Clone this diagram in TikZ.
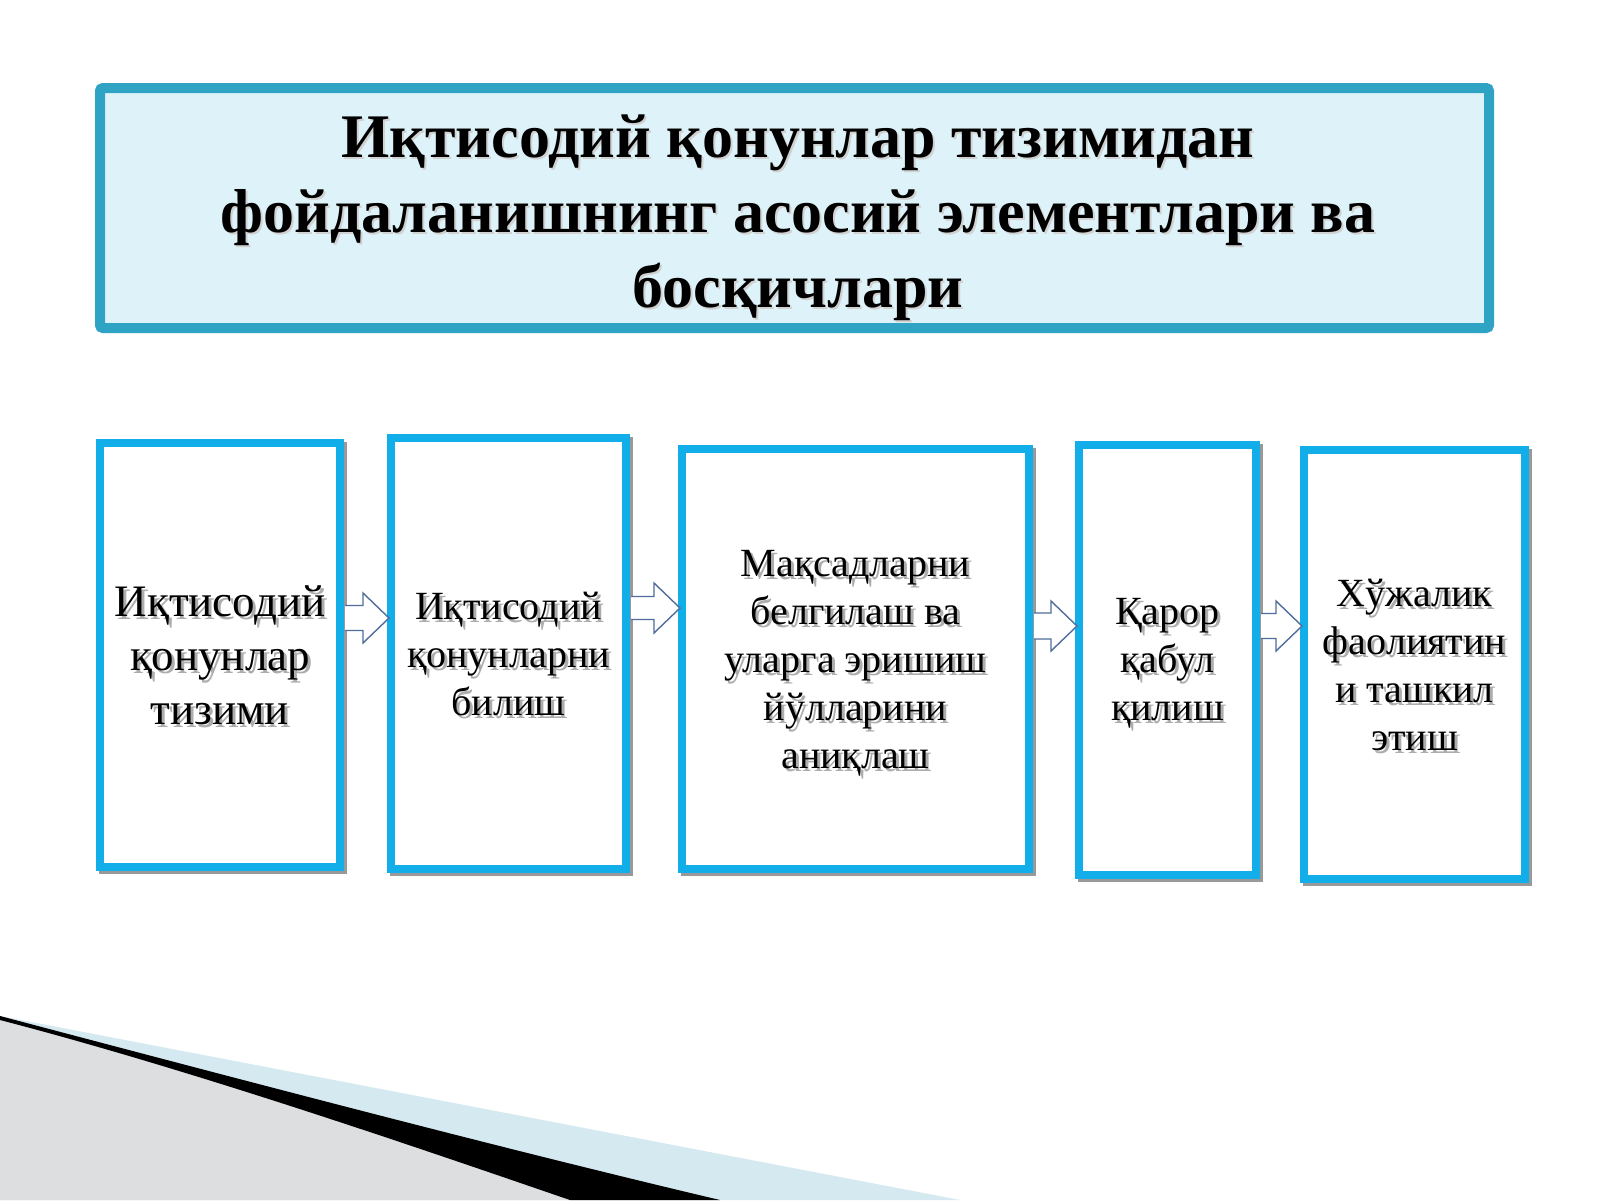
\documentclass[tikz,border=0pt]{standalone}
\usepackage{fontspec}
\setmainfont{Liberation Serif}
\usetikzlibrary{calc}
\definecolor{titlefill}{HTML}{DEF3F9}
\definecolor{titleline}{HTML}{2FA3C4}
\definecolor{stageline}{HTML}{12AEEA}
\definecolor{arrowline}{HTML}{4F6E9C}
\definecolor{greyband}{HTML}{DCDEE0}
\definecolor{blueband}{HTML}{D5E9F0}
\tikzset{
  titlebox/.style={draw=titleline, fill=titlefill, line width=5pt, rounded corners=1.5pt, inner sep=0pt},
  titletext/.style={font=\fontsize{31}{37.5}\selectfont\bfseries, align=center, inner sep=0pt},
  stage/.style={draw=stageline, fill=white, line width=4pt, inner sep=0pt},
  stagetext/.style={font=\fontsize{20}{24}\selectfont, align=center, inner sep=0pt},
  bigstagetext/.style={font=\fontsize{22.5}{27}\selectfont, align=center, inner sep=0pt},
  textshadow/.style={text=black!32},
  boxshadow/.style={fill=black!40},
  blockarrow/.style={draw=arrowline, fill=white, line width=0.7pt, line join=miter},
}
\newcommand\stagebox[5]{%
  \pgfmathsetmacro\bw{(#4-#2-8)/2}%
  \pgfmathsetmacro\bh{(#5-#3-8)/2}%
  \fill[boxshadow] (#2+3,#3+3) rectangle (#4+3,#5+3);
  \node[stage, minimum width=\bw pt, minimum height=\bh pt] (#1) at ({(#2+#4)/2},{(#3+#5)/2}) {};
}
\newcommand\stagelabel[4]{%
  \node[#2, textshadow] at ($(#1.center)+(3,#3+3)$) {#4};
  \node[#2] (#1-t) at ($(#1.center)+(0,#3)$) {#4};
}
% block arrow from node #1 (east side) to node #2 (west side) at height #3, shaft half-height #4
\newcommand\flowarrow[4]{%
  \coordinate (#1-#2-s) at (#1.east |- 0,#3);
  \coordinate (#1-#2-e) at ($(#2.west |- 0,#3)+(2,0)$);
  \draw[blockarrow] ($(#1-#2-s)+(1,-#4)$) -- ($(#1-#2-e)+(-26,-#4)$) -- ($(#1-#2-e)+(-26,-25)$)
     -- (#1-#2-e) -- ($(#1-#2-e)+(-26,25)$) -- ($(#1-#2-e)+(-26,#4)$) -- ($(#1-#2-s)+(1,#4)$);
}
\begin{document}
\begin{tikzpicture}[x=0.5pt, y=-0.5pt]
\useasboundingbox (0,0) rectangle (1600,1200);
\fill[white] (0,0) rectangle (1600,1200);
% bottom decoration
\fill[blueband] (0,1016) -- (960,1200) -- (0,1200) -- cycle;
\fill[greyband] (0,1019) .. controls (200,1072) and (430,1152) .. (570,1200) -- (0,1200) -- cycle;
\fill[black] (0,1016) .. controls (250,1082) and (500,1148) .. (720,1200) -- (570,1200)
   .. controls (430,1152) and (200,1072) .. (0,1020) -- cycle;
% title
\node[titlebox, minimum width=694.5pt, minimum height=120pt] (title) at (794.5,208) {};
\node[titletext, text=black!18] at (800,220) {Иқтисодий қонунлар тизимидан\\фойдаланишнинг асосий элементлари ва\\босқичлари};
\node[titletext] (titletxt) at (798,218) {Иқтисодий қонунлар тизимидан\\фойдаланишнинг асосий элементлари ва\\босқичлари};
% stages
\stagebox{s1}{96}{439}{344}{871}
\stagebox{s2}{387}{434}{630}{873}
\stagebox{s3}{678}{445}{1033}{873}
\stagebox{s4}{1075}{441}{1260}{879}
\stagebox{s5}{1300}{446}{1529}{883}
\stagelabel{s1}{bigstagetext}{0}{Иқтисодий\\қонунлар\\тизими}
\stagelabel{s2}{stagetext}{0}{Иқтисодий\\қонунларни\\билиш}
\stagelabel{s3}{stagetext}{4}{Мақсадларни\\белгилаш ва\\уларга эришиш\\йўлларини\\аниқлаш}
\stagelabel{s4}{stagetext}{3}{Қарор\\қабул\\қилиш}
\stagelabel{s5}{stagetext}{0}{Хўжалик\\фаолиятин\\и ташкил\\этиш}
% arrows
\flowarrow{s1}{s2}{618}{12.5}
\flowarrow{s2}{s3}{608}{11.5}
\flowarrow{s3}{s4}{626}{13}
\flowarrow{s4}{s5}{626}{12.5}
\end{tikzpicture}
\end{document}
